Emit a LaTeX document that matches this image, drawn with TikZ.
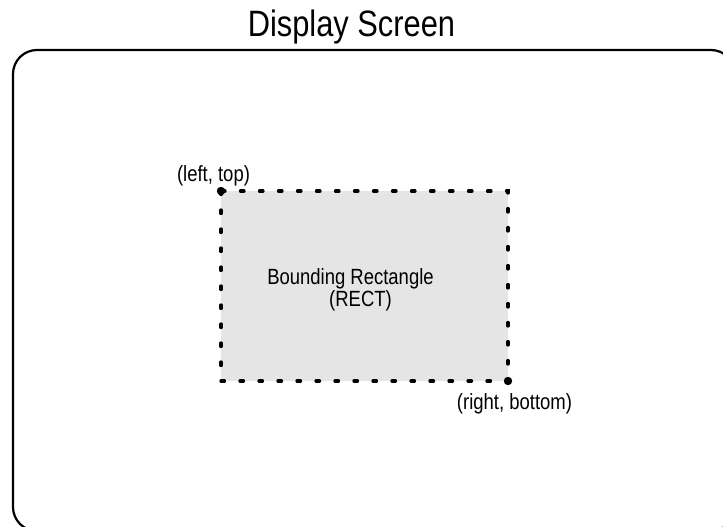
\documentclass[tikz,border=0pt]{standalone}
\usepackage{fontspec}
\setmainfont[FakeStretch=0.84]{Liberation Sans}
\begin{document}
\begin{tikzpicture}[x=1pt,y=-1pt,
  screen/.style={draw=black,line width=2.2pt,rounded corners=24pt},
  rectarea/.style={fill=black!10},
  rectedge/.style={draw=black,line width=3.3pt,line cap=round,dash pattern=on 3.5pt off 15.5pt},
  corner/.style={fill=black},
  title/.style={inner sep=0pt,anchor=base,font=\fontsize{36.7}{42}\selectfont},
  lbl/.style={inner sep=0pt,anchor=base,font=\fontsize{22}{25}\selectfont}]
  \useasboundingbox (0,0) rectangle (723,527);
  % display screen frame (runs off the right and bottom edges)
  \draw[screen] (13,50) rectangle (735,531);
  \node[title] (ttl) at (351.5,37) {Display Screen};
  % bounding rectangle corners
  \coordinate (lt) at (221,191);
  \coordinate (rb) at (508,381);
  \fill[rectarea] (lt) rectangle (rb);
  \draw[rectedge] (lt) rectangle (rb);
  \fill[corner] (lt) circle (4.2pt);
  \fill[corner] (rb) circle (4.2pt);
  % labels
  \node[lbl] (ltl) at (213.5,181) {(left, top)};
  \node[lbl] (rbl) at (514.5,409) {(right, bottom)};
  \node[lbl] (nm1) at (350.5,284) {Bounding Rectangle};
  \node[lbl] (nm2) at (360.5,306) {(RECT)};
\end{tikzpicture}
\end{document}
